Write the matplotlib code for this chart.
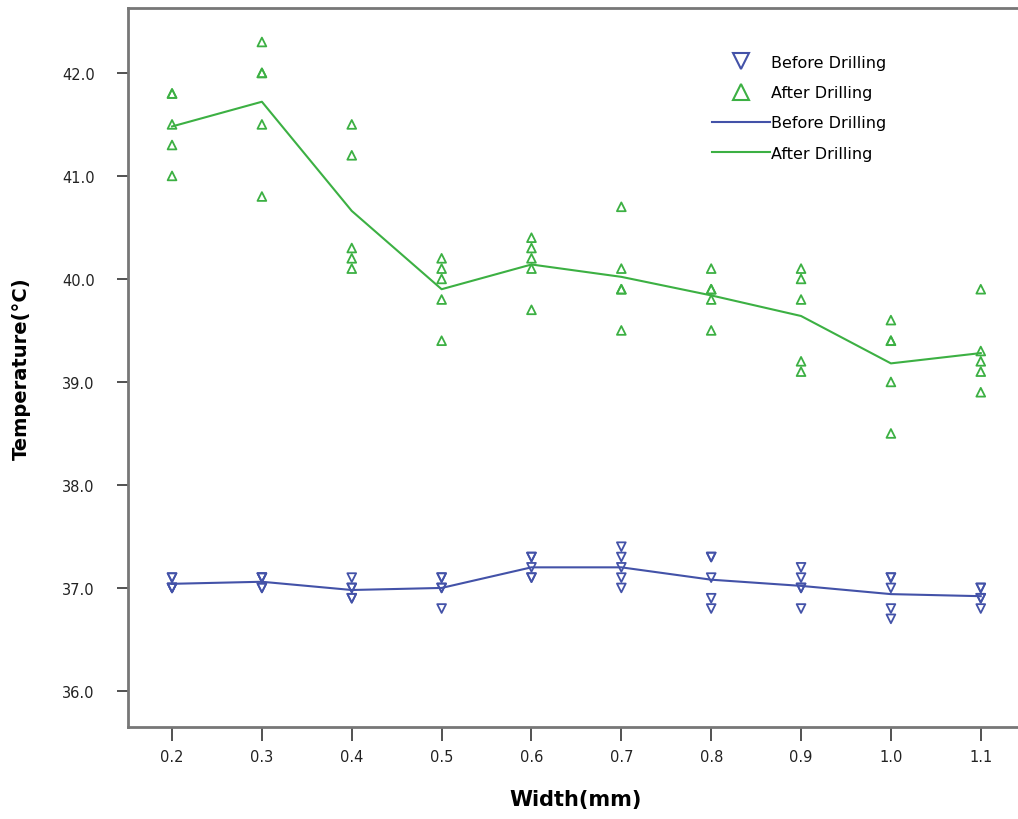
"""
Temperature before/after drilling vs. width: raw points plus mean line.
"""

import numpy as np
import matplotlib.pyplot as plt
from matplotlib.lines import Line2D

widths = [0.2, 0.3, 0.4, 0.5, 0.6, 0.7, 0.8, 0.9, 1.0, 1.1]

# five readings per width
before = [
    [37.1, 37.1, 37.0, 37.0, 37.0],
    [37.1, 37.1, 37.1, 37.0, 37.0],
    [37.1, 37.0, 37.0, 36.9, 36.9],
    [37.1, 37.1, 37.0, 37.0, 36.8],
    [37.3, 37.3, 37.2, 37.1, 37.1],
    [37.4, 37.3, 37.2, 37.1, 37.0],
    [37.3, 37.3, 37.1, 36.9, 36.8],
    [37.2, 37.1, 37.0, 37.0, 36.8],
    [37.1, 37.1, 37.0, 36.8, 36.7],
    [37.0, 37.0, 36.9, 36.9, 36.8],
]
after = [
    [41.8, 41.8, 41.5, 41.3, 41.0],
    [42.3, 42.0, 42.0, 41.5, 40.8],
    [41.5, 41.2, 40.3, 40.2, 40.1],
    [40.2, 40.1, 40.0, 39.8, 39.4],
    [40.4, 40.3, 40.2, 40.1, 39.7],
    [40.7, 40.1, 39.9, 39.9, 39.5],
    [40.1, 39.9, 39.9, 39.8, 39.5],
    [40.1, 40.0, 39.8, 39.2, 39.1],
    [39.6, 39.4, 39.4, 39.0, 38.5],
    [39.9, 39.3, 39.2, 39.1, 38.9],
]

BLUE = '#4352a8'
GREEN = '#3cb043'

fig = plt.figure(figsize=(10.18, 8.2), dpi=100)
ax = fig.add_axes([128 / 1018, 92 / 820, 895 / 1018, 719 / 820])

for w, b, a in zip(widths, before, after):
    ax.scatter([w] * len(b), b, marker='v', s=40, facecolors='none',
               edgecolors=BLUE, linewidths=1.3, zorder=3)
    ax.scatter([w] * len(a), a, marker='^', s=40, facecolors='none',
               edgecolors=GREEN, linewidths=1.3, zorder=3)

ax.plot(widths, np.mean(before, axis=1), color=BLUE, linewidth=1.5, zorder=2)
ax.plot(widths, np.mean(after, axis=1), color=GREEN, linewidth=1.5, zorder=2)

ax.set_xlim(0.151, 1.147)
ax.set_ylim(35.65, 42.63)
ax.set_xticks(widths)
ax.set_xticklabels([f'{w:.1f}' for w in widths])
ax.set_yticks(np.arange(36.0, 42.5, 1.0))
ax.set_yticklabels([f'{v:.1f}' for v in np.arange(36.0, 42.5, 1.0)])
ax.tick_params(axis='both', direction='out', color='#333333', width=1.2,
               labelsize=10.5, labelcolor='#222222')
ax.tick_params(axis='x', length=10, pad=6)
ax.tick_params(axis='y', length=8, pad=16)
for s in ax.spines.values():
    s.set_color('#777777')
    s.set_linewidth(2)

ax.set_xlabel('Width(mm)', fontsize=15, fontweight='bold', labelpad=18)
ax.set_ylabel('Temperature(°C)', fontsize=14, fontweight='bold', labelpad=22)

handles = [
    Line2D([], [], linestyle='none', marker='v', markersize=11,
           markerfacecolor='none', markeredgecolor=BLUE, markeredgewidth=1.5),
    Line2D([], [], linestyle='none', marker='^', markersize=11,
           markerfacecolor='none', markeredgecolor=GREEN, markeredgewidth=1.5),
    Line2D([], [], color=BLUE, linewidth=1.5),
    Line2D([], [], color=GREEN, linewidth=1.5),
]
labels = ['Before Drilling', 'After Drilling', 'Before Drilling', 'After Drilling']
fig.legend(handles, labels, loc='upper left',
           bbox_to_anchor=(712 / 1018, 1 - 56 / 820), frameon=False,
           fontsize=11.5, handlelength=3.6, handletextpad=0.1,
           labelspacing=0.95, borderpad=0, borderaxespad=0)

fig.savefig('out.png', dpi=100)
